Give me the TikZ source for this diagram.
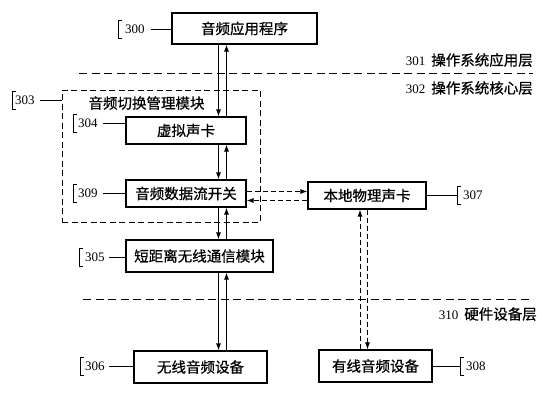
\documentclass[tikz,border=0pt]{standalone}
\usepackage{fontspec}
\setmainfont{Liberation Serif}
\newfontfamily\cjk[FakeBold=0.7]{Noto Sans CJK SC}
\usetikzlibrary{arrows.meta}
\begin{document}
\begin{tikzpicture}[x=1pt,y=-1pt,
  box/.style={draw, line width=1.1pt, inner sep=0pt, font=\cjk\fontsize{14.5}{16}\selectfont},
  dbox/.style={draw, line width=1pt, dash pattern=on 6pt off 3.5pt, inner sep=0pt},
  title/.style={inner sep=0pt, font=\cjk\fontsize{14.5}{16}\selectfont},
  num/.style={inner sep=0pt, font=\fontsize{13}{14}\selectfont},
  arr/.style={line width=1pt, -{Latex[length=7pt,width=5pt]}},
  darr/.style={arr, dash pattern=on 5pt off 3pt},
  lead/.style={line width=0.9pt},
  brk/.style={line width=0.9pt},
  layer/.style={line width=1pt, dash pattern=on 8pt off 4.5pt}
]
\useasboundingbox (0,0) rectangle (551,400);

% layer lines
\coordinate (L1a) at (79,73);  \coordinate (L1b) at (533,73);
\coordinate (L2a) at (83,299); \coordinate (L2b) at (533,299);
\draw[layer] (L1a) -- (L1b);
\draw[layer] (L2a) -- (L2b);
\node[title, anchor=east] (t301) at (533,60) {{\rmfamily\fontsize{13}{14}\selectfont 301}\hspace{6pt}操作系统应用层};
\node[title, anchor=east] (t302) at (533,88) {{\rmfamily\fontsize{13}{14}\selectfont 302}\hspace{6pt}操作系统核心层};
\node[title, anchor=east] (t310) at (537,314) {{\rmfamily\fontsize{13}{14}\selectfont 310}\hspace{6pt}硬件设备层};

% dashed module box
\node[dbox, minimum width=198pt, minimum height=132pt] (m303) at (161,156) {};
\node[title] (t303) at (146.5,103) {音频切换管理模块};

% boxes
\node[box, minimum width=145pt, minimum height=31pt] (m300) at (244.5,28.5) {音频应用程序};
\node[box, minimum width=120pt, minimum height=27pt] (m304) at (186,130.5) {虚拟声卡};
\node[box, minimum width=120pt, minimum height=27pt] (m309) at (186,193.5) {音频数据流开关};
\node[box, minimum width=118pt, minimum height=27pt] (m307) at (367,195.5) {本地物理声卡};
\node[box, minimum width=147pt, minimum height=32pt] (m305) at (199.5,256) {短距离无线通信模块};
\node[box, minimum width=133pt, minimum height=32pt] (m306) at (200.5,367) {无线音频设备};
\node[box, minimum width=113pt, minimum height=32pt] (m308) at (375.5,366) {有线音频设备};

% arrow columns / rows
\coordinate (xa) at (218.5,0);
\coordinate (xb) at (226.5,0);
\coordinate (xc) at (360,0);
\coordinate (xd) at (367.5,0);
\coordinate (ya) at (0,191.5);
\coordinate (yb) at (0,200.5);

\draw[arr] (m300.south -| xa) -- (m304.north -| xa);
\draw[arr] (m304.north -| xb) -- (m300.south -| xb);
\draw[arr] (m304.south -| xa) -- (m309.north -| xa);
\draw[arr] (m309.north -| xb) -- (m304.south -| xb);
\draw[arr] (m309.south -| xa) -- (m305.north -| xa);
\draw[arr] (m305.north -| xb) -- (m309.south -| xb);
\draw[arr] (m305.south -| xa) -- (m306.north -| xa);
\draw[arr] (m306.north -| xb) -- (m305.south -| xb);

\draw[darr] (m309.east |- ya) -- (m307.west |- ya);
\draw[darr] (m307.west |- yb) -- (m309.east |- yb);
\draw[darr] (m308.north -| xc) -- (m307.south -| xc);
\draw[darr] (m307.south -| xd) -- (m308.north -| xd);

% reference numbers (left)
\node[num, anchor=west] (l300) at (125,29) {300};
\node[num, anchor=west] (l303) at (15,100) {303};
\node[num, anchor=west] (l304) at (78,123) {304};
\node[num, anchor=west] (l309) at (78,193) {309};
\node[num, anchor=west] (l305) at (85,257) {305};
\node[num, anchor=west] (l306) at (85,366) {306};
% reference numbers (right)
\node[num, anchor=west] (l307) at (463,195) {307};
\node[num, anchor=west] (l308) at (466,366) {308};

% leaders
\draw[lead] ([xshift=6pt]l300.east) -- (l300.east -| m300.west);
\draw[lead] ([xshift=5pt]l303.east) -- (l303.east -| m303.west);
\draw[lead] ([xshift=5pt]l304.east) -- (l304.east -| m304.west);
\draw[lead] ([xshift=5pt]l309.east) -- (l309.east -| m309.west);
\draw[lead] ([xshift=4pt]l305.east) -- (l305.east -| m305.west);
\draw[lead] ([xshift=4pt]l306.east) -- (l306.east -| m306.west);
\draw[lead] (m307.east |- l307.west) -- ([xshift=-6pt]l307.west);
\draw[lead] (m308.east |- l308.west) -- ([xshift=-6pt]l308.west);

% brackets
\foreach \n/\d in {l300/7, l303/3, l304/5, l309/5, l305/6, l306/5} {
  \draw[brk] ([shift={(-\d+3.5,-9)}]\n.west) -- ++(-3.5,0) -- ++(0,18) -- ++(3.5,0);
}
\foreach \n in {l307, l308} {
  \draw[brk] ([shift={(-6+3.5,-9)}]\n.west) -- ++(-3.5,0) -- ++(0,18) -- ++(3.5,0);
}
\end{tikzpicture}
\end{document}
